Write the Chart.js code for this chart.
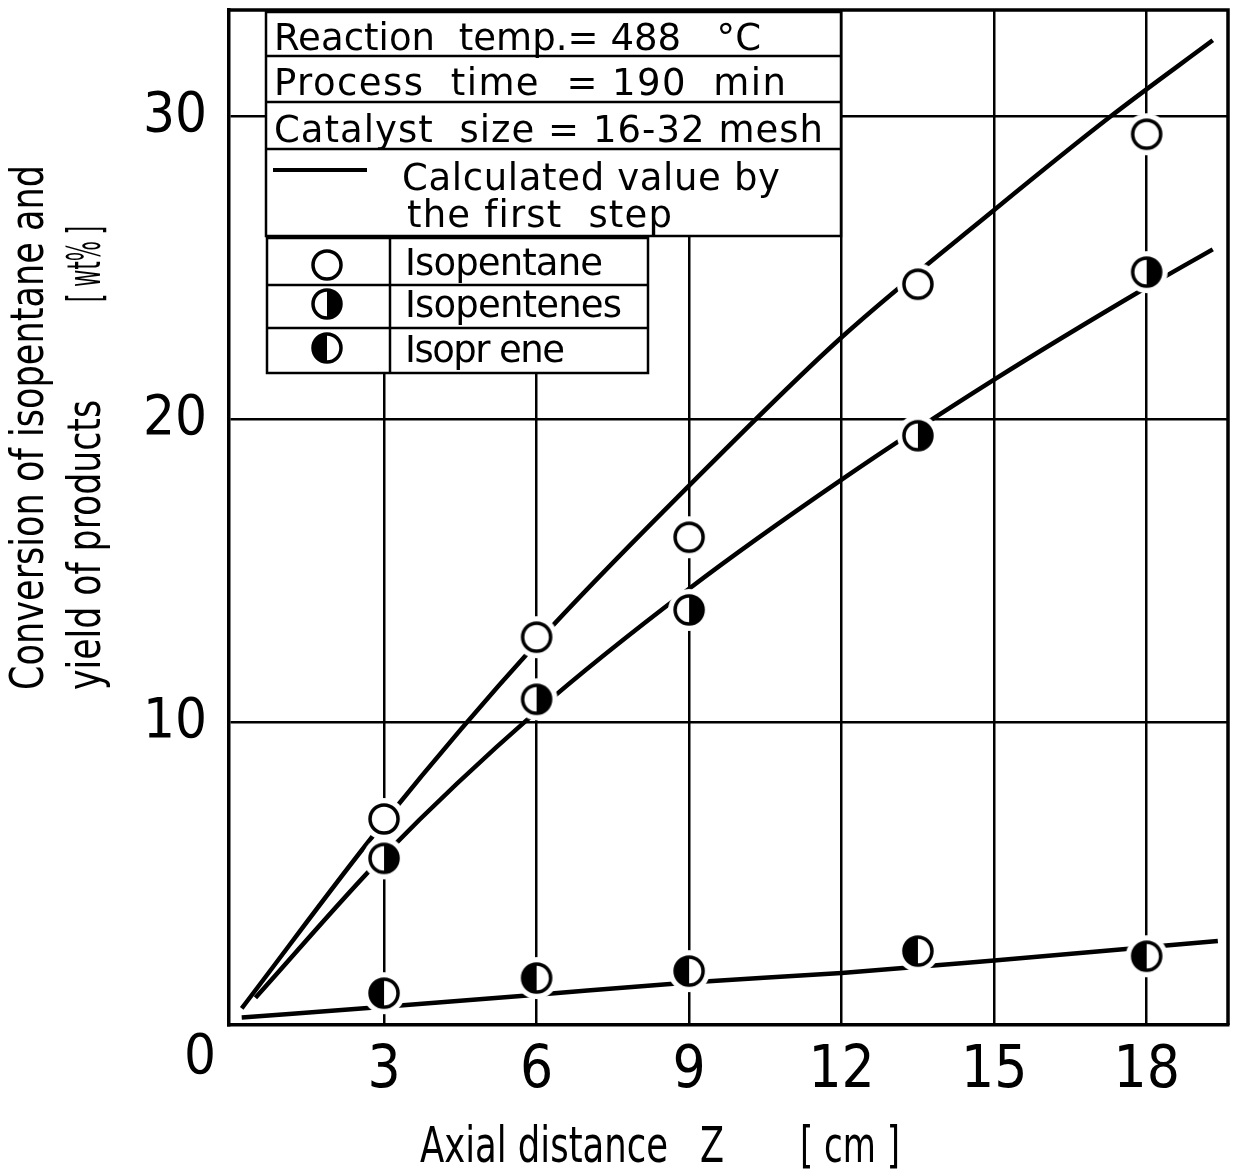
<!DOCTYPE html>
<html>
<head>
<meta charset="utf-8">
<script src="https://cdn.jsdelivr.net/npm/chart.js@4"></script>
<style>
  html, body { margin: 0; padding: 0; background: #fff; }
</style>
</head>
<body>
<canvas id="myChart" width="1236" height="1174"></canvas>
<script>
/* measured points */
var zMeasured = [3, 6, 9, 13.5, 18];
var isopentane = [6.8, 12.8, 16.1, 24.45, 29.4];
var isopentenes = [5.5, 10.75, 13.7, 19.45, 24.85];
var isoprene = [1.05, 1.55, 1.78, 2.44, 2.27];

/* calculated curves (first step) */
var zCalcIsopentane = [0.2, 3, 6, 9, 12, 15, 17.3, 19.3];
var calcIsopentane = [0.55, 6.7, 12.6, 17.8, 22.7, 26.9, 30, 32.5];
var zCalcIsopentenes = [0.47, 3, 6, 9, 12, 15, 18, 19.3];
var calcIsopentenes = [0.9, 5.6, 10.35, 14.4, 18.0, 21.3, 24.35, 25.6];
var zCalcIsoprene = [0.2, 3, 6, 9, 12, 15, 19.4];
var calcIsoprene = [0.25, 0.6, 1.0, 1.4, 1.72, 2.13, 2.77];

/* axis ticks */
var xTicks = [3, 6, 9, 12, 15, 18];
var yTicks = [10, 20, 30];

function pairs(xs, ys) {
  return xs.map(function (x, i) { return { x: x, y: ys[i] }; });
}

// pick a narrow face if one is there
function fontExists(name) {
  var g = document.createElement('canvas').getContext('2d');
  var s = 'abcdefghijklmnopqrstuvwxyz0123456789';
  g.font = '40px monospace';
  var a = g.measureText(s).width;
  g.font = '40px "' + name + '", monospace';
  var b = g.measureText(s).width;
  g.font = '40px serif';
  var a2 = g.measureText(s).width;
  g.font = '40px "' + name + '", serif';
  var b2 = g.measureText(s).width;
  return a !== b || a2 !== b2;
}
var narrow = ['Liberation Sans Narrow', 'DejaVu Sans Condensed', 'Roboto Condensed']
  .find(fontExists) || 'Liberation Sans';

// circle markers: open, right half black, left half black
function marker(kind, halo) {
  var r = 14;
  var size = halo ? 44 : 34;
  var c = document.createElement('canvas');
  c.width = c.height = size;
  var g = c.getContext('2d');
  var m = size / 2;
  if (halo) {
    g.fillStyle = '#fff';
    g.beginPath(); g.arc(m, m, 21, 0, Math.PI * 2); g.fill();
  }
  g.fillStyle = '#fff';
  g.beginPath(); g.arc(m, m, r, 0, Math.PI * 2); g.fill();
  if (kind !== 'open') {
    g.fillStyle = '#000';
    g.beginPath();
    if (kind === 'right') g.arc(m, m, r, -Math.PI / 2, Math.PI / 2);
    else g.arc(m, m, r, Math.PI / 2, Math.PI * 1.5);
    g.closePath(); g.fill();
  }
  g.lineWidth = 3.5;
  g.strokeStyle = '#000';
  g.beginPath(); g.arc(m, m, r, 0, Math.PI * 2); g.stroke();
  return c;
}
var mkOpen = marker('open', true), mkRight = marker('right', true), mkLeft = marker('left', true);
var lgOpen = marker('open', false), lgRight = marker('right', false), lgLeft = marker('left', false);

// spread letters to a width
function fitText(c, text, x, y, width) {
  c.letterSpacing = '0px';
  var w = c.measureText(text).width;
  var sp = (width - w) / Math.max(1, text.length - 1);
  c.letterSpacing = sp.toFixed(2) + 'px';
  c.fillText(text, x, y);
  c.letterSpacing = '0px';
}

// squeeze a string to a width (condensed lettering)
function squeezeText(c, text, x, y, width) {
  var w = c.measureText(text).width;
  c.save();
  c.translate(x, y);
  c.scale(width / w, 1);
  c.fillText(text, 0, 0);
  c.restore();
}

function hline(c, x1, x2, y) { c.beginPath(); c.moveTo(x1, y); c.lineTo(x2, y); c.stroke(); }
function vline(c, x, y1, y2) { c.beginPath(); c.moveTo(x, y1); c.lineTo(x, y2); c.stroke(); }

/* frame, info tables, titles */
var paperPlugin = {
  id: 'paper',
  afterDatasetsDraw: function (chart) {
    var c = chart.ctx, a = chart.chartArea;
    c.save();
    c.strokeStyle = '#000';
    c.lineWidth = 3.5;
    c.beginPath();
    c.moveTo(a.left, a.top); c.lineTo(a.right, a.top); c.lineTo(a.right, a.bottom);
    c.stroke();

    // condition table
    c.fillStyle = '#fff';
    c.fillRect(266, 12, 575, 224);
    c.lineWidth = 2.5;
    c.strokeRect(266, 12, 575, 224);
    hline(c, 266, 841, 56);
    hline(c, 266, 841, 102);
    hline(c, 266, 841, 149);

    // symbol table
    c.fillStyle = '#fff';
    c.fillRect(267, 238, 381, 135);
    c.strokeRect(267, 238, 381, 135);
    hline(c, 267, 648, 285);
    hline(c, 267, 648, 328);
    vline(c, 390, 238, 373);

    c.fillStyle = '#000';
    c.font = '37px "DejaVu Sans"';
    c.textAlign = 'left';
    c.textBaseline = 'alphabetic';
    fitText(c, 'Reaction  temp.= 488   \u00b0C', 274, 50, 487);
    fitText(c, 'Process  time  = 190  min', 274, 95, 512);
    fitText(c, 'Catalyst  size = 16-32 mesh', 274, 142, 549);
    fitText(c, 'Calculated value by', 402, 190, 378);
    fitText(c, 'the first  step', 407, 227, 265);
    c.lineWidth = 4;
    hline(c, 273, 367, 170);

    fitText(c, 'Isopentane', 405, 275, 198);
    fitText(c, 'Isopentenes', 405, 317, 217);
    fitText(c, 'Isopr ene', 405, 362, 160);
    c.drawImage(lgOpen, 327 - 17, 265 - 17);
    c.drawImage(lgRight, 327 - 17, 304 - 17);
    c.drawImage(lgLeft, 327 - 17, 348 - 17);
    c.restore();
  },
  afterDraw: function (chart) {
    var c = chart.ctx;
    c.save();
    c.fillStyle = '#000';
    c.font = '56px "' + narrow + '"';
    c.textAlign = 'center';
    c.textBaseline = 'middle';
    c.fillText('0', 200, 1058);

    c.font = '50px "' + narrow + '"';
    c.textAlign = 'left';
    c.textBaseline = 'alphabetic';
    squeezeText(c, 'Axial distance', 420, 1162, 248);
    squeezeText(c, 'Z', 700, 1162, 24);
    squeezeText(c, '[ cm ]', 800, 1162, 100);

    c.font = '46px "' + narrow + '"';
    c.textBaseline = 'middle';
    c.translate(31, 690);
    c.rotate(-Math.PI / 2);
    squeezeText(c, 'Conversion of isopentane and', 0, 0, 525);
    c.translate(0, 57);
    squeezeText(c, 'yield of products', 0, 0, 290);
    squeezeText(c, '[ wt% ]', 388, 0, 76);
    c.restore();
  }
};

var ctx = document.getElementById('myChart');

var myChart = new Chart(ctx, {
  type: 'scatter',
  data: {
    datasets: [
      {
        label: 'Isopentane',
        data: pairs(zMeasured, isopentane),
        pointStyle: mkOpen,
        order: 1,
      },
      {
        label: 'Isopentenes',
        data: pairs(zMeasured, isopentenes),
        pointStyle: mkRight,
        order: 1,
      },
      {
        label: 'Isoprene',
        data: pairs(zMeasured, isoprene),
        pointStyle: mkLeft,
        order: 1,
      },
      {
        label: 'Calculated isopentane',
        data: pairs(zCalcIsopentane, calcIsopentane),
        showLine: true,
        pointRadius: 0,
        borderColor: '#000',
        borderWidth: 4.5,
        cubicInterpolationMode: 'monotone',
        order: 2,
      },
      {
        label: 'Calculated isopentenes',
        data: pairs(zCalcIsopentenes, calcIsopentenes),
        showLine: true,
        pointRadius: 0,
        borderColor: '#000',
        borderWidth: 4.5,
        cubicInterpolationMode: 'monotone',
        order: 2,
      },
      {
        label: 'Calculated isoprene',
        data: pairs(zCalcIsoprene, calcIsoprene),
        showLine: true,
        pointRadius: 0,
        borderColor: '#000',
        borderWidth: 4.5,
        cubicInterpolationMode: 'monotone',
        order: 2,
      },
    ],
  },
  options: {
    responsive: false,
    animation: false,
    layout: { padding: { top: 10, right: 8, left: 0, bottom: 0 } },
    plugins: {
      legend: { display: false },
      tooltip: { enabled: false },
    },
    scales: {
      x: {
        type: 'linear',
        min: -0.05,
        max: 19.6,
        afterBuildTicks: function (scale) {
          scale.ticks = xTicks.map(function (v) { return { value: v }; });
        },
        afterFit: function (scale) {
          scale.height = 149;
          scale.paddingLeft = 0;
          scale.paddingRight = 0;
        },
        grid: { color: '#000', lineWidth: 2.5, drawTicks: false },
        border: { display: true, color: '#000', width: 3.5 },
        ticks: {
          color: '#000',
          padding: 12,
          maxRotation: 0,
          font: { family: narrow, size: 58 },
        },
      },
      y: {
        type: 'linear',
        min: 0,
        max: 33.5,
        afterBuildTicks: function (scale) {
          scale.ticks = yTicks.map(function (v) { return { value: v }; });
        },
        afterFit: function (scale) {
          scale.width = 229;
          scale.paddingTop = 0;
          scale.paddingBottom = 0;
        },
        grid: { color: '#000', lineWidth: 2.5, drawTicks: false },
        border: { display: true, color: '#000', width: 3.5 },
        ticks: {
          color: '#000',
          padding: 22,
          font: { family: narrow, size: 56 },
        },
      },
    },
  },
  plugins: [paperPlugin],
});
</script>
</body>
</html>
